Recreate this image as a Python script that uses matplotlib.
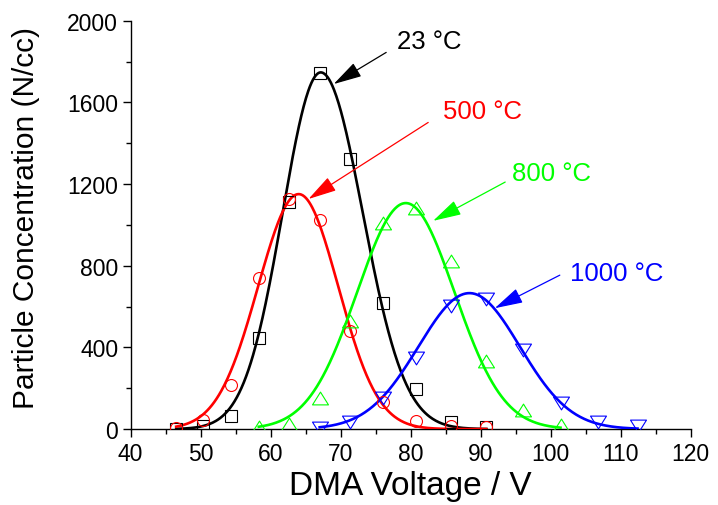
import numpy as np
import matplotlib
matplotlib.use("Agg")
import matplotlib.pyplot as plt
from matplotlib.ticker import MultipleLocator
from matplotlib.path import Path

plt.rcParams['font.family'] = ['Liberation Sans', 'DejaVu Sans']

# DMA voltage grid (V)
voltage = [46.5, 50.4, 54.3, 58.3, 62.6, 67.0, 71.3, 76.0, 80.8, 85.7, 90.8, 96.0, 101.4, 106.8, 112.4]

labels = ["23 °C", "500 °C", "800 °C", "1000 °C"]
colors = ["#000000", "#FF0000", "#00FF00", "#0000FF"]

# measured concentrations (N/cc)
x_23 = voltage[0:11]
y_23 = [2, 15, 65, 448, 1113, 1745, 1322, 620, 196, 36, 10]
x_500 = voltage[0:11]
y_500 = [5, 44, 217, 742, 1125, 1024, 481, 134, 39, 16, 8]
x_800 = voltage[3:13]
y_800 = [8, 26, 152, 530, 1011, 1084, 823, 334, 95, 21]
x_1000 = voltage[5:15]
y_1000 = [5, 33, 152, 346, 603, 639, 388, 130, 33, 13]

# peak-fit parameters (centre, height, left/right widths)
fit_center = [67.15, 64.0, 79.3, 88.4]
fit_height = [1747, 1151, 1107, 666]
fit_sigma_left = [5.45, 5.8, 6.95, 7.3]
fit_sigma_right = [6.0, 5.65, 6.95, 7.2]

# annotation placement (data coords): text position, arrow start, arrow tip
text_pos = [(78.0, 1902), (84.6, 1559), (94.4, 1256), (102.8, 764)]
arrow_start = [(76.5, 1845), (82.5, 1502), (93.5, 1210), (101.3, 754)]
arrow_tip = [(69.0, 1690), (65.4, 1127), (83.2, 1020), (92.0, 592)]

xs = [x_23, x_500, x_800, x_1000]
ys = [y_23, y_500, y_800, y_1000]
tri_up = Path([(-1, -0.8), (1, -0.8), (0, 0.8), (-1, -0.8)],
              [Path.MOVETO, Path.LINETO, Path.LINETO, Path.CLOSEPOLY])
tri_dn = Path([(-1, 0.8), (1, 0.8), (0, -0.8), (-1, 0.8)],
              [Path.MOVETO, Path.LINETO, Path.LINETO, Path.CLOSEPOLY])
markers = ['s', 'o', tri_up, tri_dn]
msizes = [8.8, 8.6, 11.5, 11.5]

fig = plt.figure(figsize=(7.18, 5.06), dpi=100)
ax = fig.add_axes([0.182, 0.150, 0.780, 0.807])

for i in range(4):
    xd = np.array(xs[i])
    xf = np.linspace(xd.min(), xd.max(), 400)
    sig = np.where(xf < fit_center[i], fit_sigma_left[i], fit_sigma_right[i])
    yf = fit_height[i] * np.exp(-(xf - fit_center[i]) ** 2 / (2 * sig ** 2))
    ax.plot(xf, yf, color=colors[i], lw=1.9, zorder=3)
    ax.plot(xd, ys[i], linestyle='none', marker=markers[i], ms=msizes[i],
            mfc='none', mec=colors[i], mew=0.8, zorder=4)
    ax.annotate("", xy=arrow_tip[i], xytext=arrow_start[i],
                arrowprops=dict(arrowstyle='-|>,head_length=1.1,head_width=0.3',
                                color=colors[i], lw=0.9, mutation_scale=16,
                                shrinkA=0, shrinkB=0), zorder=5)
    ax.text(text_pos[i][0], text_pos[i][1], labels[i], color=colors[i],
            fontsize=18.5, ha='left', va='center')

ax.set_xlim(40, 120)
ax.set_ylim(0, 2000)
ax.xaxis.set_major_locator(MultipleLocator(10))
ax.xaxis.set_minor_locator(MultipleLocator(5))
ax.yaxis.set_major_locator(MultipleLocator(400))
ax.yaxis.set_minor_locator(MultipleLocator(200))
for s in ['top', 'right']:
    ax.spines[s].set_visible(False)
for s in ['left', 'bottom']:
    ax.spines[s].set_linewidth(1.0)
ax.tick_params(which='major', direction='out', length=6, width=1.0, labelsize=16.5, pad=3)
ax.tick_params(which='minor', direction='out', length=3.5, width=1.0)
ax.set_xlabel("DMA Voltage / V", fontsize=24)
ax.set_ylabel("Particle Concentration (N/cc)", fontsize=21.5)
ax.xaxis.set_label_coords(0.5, -0.1)
ax.yaxis.set_label_coords(-0.162, 0.519)

fig.savefig("out.png", dpi=100)
